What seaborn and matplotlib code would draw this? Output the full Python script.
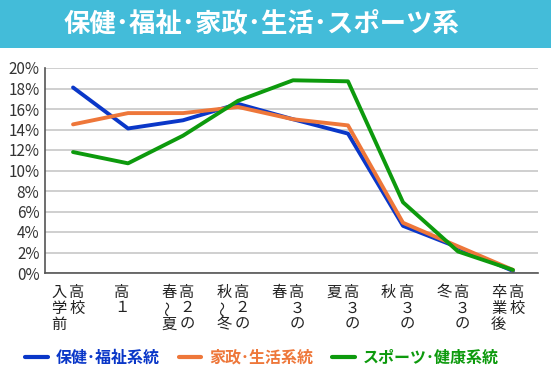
import matplotlib
matplotlib.use("Agg")
import pandas as pd
import matplotlib.pyplot as plt
import seaborn as sns
from matplotlib.patches import Rectangle
from matplotlib.transforms import blended_transform_factory

# Data (percent)
stages = ["高校入学前", "高1", "高2の春〜夏", "高2の秋〜冬", "高3の春",
          "高3の夏", "高3の秋", "高3の冬", "高校卒業後"]
# vertical label columns (right column first, as in vertical writing)
stage_columns = [["高校", "入学前"], ["高１"], ["高２の", "春〜夏"], ["高２の", "秋〜冬"],
                 ["高３の", "春"], ["高３の", "夏"], ["高３の", "秋"], ["高３の", "冬"],
                 ["高校", "卒業後"]]
welfare = [18.1, 14.1, 14.9, 16.5, 15.0, 13.6, 4.6, 2.5, 0.2]
home_econ = [14.5, 15.6, 15.6, 16.2, 15.0, 14.4, 4.9, 2.6, 0.3]
sports = [11.8, 10.7, 13.4, 16.8, 18.8, 18.7, 6.9, 2.1, 0.3]
series_names = ["保健･福祉系統", "家政･生活系統", "スポーツ･健康系統"]
yticks = [0, 2, 4, 6, 8, 10, 12, 14, 16, 18, 20]
title = "保健･福祉･家政･生活･スポーツ系"

colors = {series_names[0]: "#0a37c8", series_names[1]: "#ee773a", series_names[2]: "#0d9a0d"}

df = pd.DataFrame({
    "stage": list(range(len(stages))) * 3,
    "value": welfare + home_econ + sports,
    "series": [s for s in series_names for _ in stages],
})

sns.set_style("white")
plt.rcParams["font.family"] = ["Noto Sans CJK JP", "DejaVu Sans"]

W, H = 551, 391
fig = plt.figure(figsize=(W / 100, H / 100), dpi=100)
ax = fig.add_axes([45 / W, 1 - 273 / H, (538 - 45) / W, (273 - 68) / H])

# title banner
fig.patches.append(Rectangle((0, 1 - 48 / H), 1, 48 / H, transform=fig.transFigure,
                             facecolor="#43bcd9", edgecolor="none", zorder=0))
fig.text(262 / W, 1 - 24 / H, title, color="white", fontsize=19, fontweight="bold",
         ha="center", va="center")

sns.lineplot(data=df, x="stage", y="value", hue="series", palette=colors,
             linewidth=2.8, sort=False, ax=ax, legend=False)

ax.set_xlim(-0.51, 8.455)
ax.set_ylim(0, 20)
ax.set_yticks(yticks)
ax.set_yticklabels([f"{v}%" for v in yticks], fontsize=11, color="#333333")
ax.tick_params(axis="y", length=0, pad=4)
ax.set_xticks([])
ax.set_xlabel("")
ax.set_ylabel("")
ax.grid(axis="y", color="#cccccc", linewidth=1.3)
ax.set_axisbelow(True)
for side in ["top", "right"]:
    ax.spines[side].set_visible(False)
for side in ["left", "bottom"]:
    ax.spines[side].set_color("#555555")
    ax.spines[side].set_linewidth(1.2)

# vertical-writing x labels
tr = blended_transform_factory(ax.transData, fig.transFigure)
row_y = [292, 308, 324]
for i, cols in enumerate(stage_columns):
    for j, col in enumerate(cols):
        x = i + 0.07 - j * 0.33 if len(cols) > 1 else i - 0.12
        for k, ch in enumerate(col):
            ax.text(x, 1 - row_y[k] / H, ch, transform=tr, ha="center", va="center",
                    fontsize=11, color="#222222",
                    rotation=90 if ch in "〜～" else 0)

# legend
handles = [plt.Line2D([], [], color=colors[s], linewidth=3) for s in series_names]
leg = fig.legend(handles, series_names, loc="center", bbox_to_anchor=(262 / W, 1 - 358 / H),
                 ncol=3, frameon=False, handlelength=1.4, handletextpad=0.5,
                 columnspacing=1.2, prop={"size": 11.5, "weight": "bold"})
for txt, s in zip(leg.get_texts(), series_names):
    txt.set_color(colors[s])

fig.savefig("out.png", dpi=100)
